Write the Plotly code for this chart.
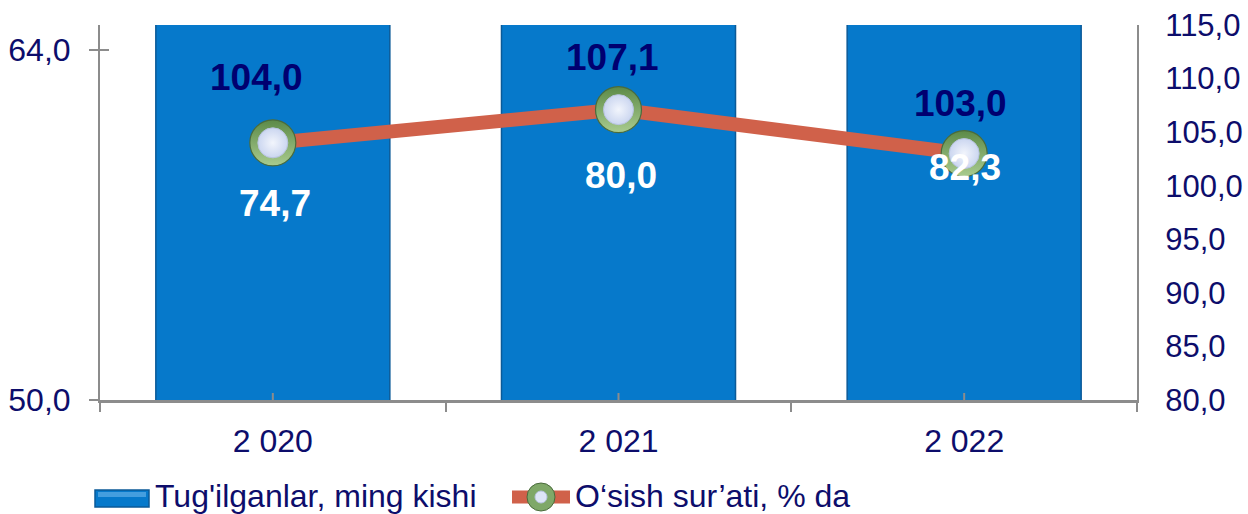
import plotly.graph_objects as go

# ---------------- data ----------------
years = ["2 020", "2 021", "2 022"]
births = [74.7, 80.0, 82.3]          # Tug'ilganlar, ming kishi
growth = [104.0, 107.1, 103.0]       # O‘sish sur’ati, % da
left_ticks = [50.0, 64.0]
right_ticks = [80, 85, 90, 95, 100, 105, 110, 115]

# ---------------- style ----------------
W, H = 1248, 514
ML, MR, MT, MB = 100, 111, 25, 114
PW, PH = W - ML - MR, H - MT - MB
FONT = "Liberation Sans"
NAVY = "#0D0D6B"
LBL_NAVY = "#000070"
BAR = "#0679CB"
LINE = "#D0614A"
GRAY = "#8C8C8C"
line_label_shift = [65, 52, 50]      # px above marker
line_label_xshift = [-16, -6, -4]
bar_label_py = [203, 175, 167]       # px from top of image
bar_label_xshift = [2, 2, 1]


def fmt(v):
    return f"{v:.1f}".replace(".", ",")


def px(x):
    return (x - ML) / PW


def py(y):
    return (MT + PH - y) / PH


fig = go.Figure()

fig.add_trace(go.Bar(
    x=years, y=births, name="Tug'ilganlar, ming kishi",
    marker=dict(color=BAR, line=dict(color="#0B5A98", width=1.5)),
    yaxis="y", showlegend=False, hoverinfo="skip",
))
fig.add_trace(go.Scatter(
    x=years, y=growth, yaxis="y2", mode="lines",
    line=dict(color=LINE, width=14), showlegend=False, hoverinfo="skip",
))
fig.add_trace(go.Scatter(
    x=years, y=growth, yaxis="y2", mode="markers",
    marker=dict(size=46, color="#5C8A48",
                gradient=dict(type="vertical", color="#A9CB8E"),
                line=dict(color="#4A6B3C", width=1.2)),
    showlegend=False, hoverinfo="skip",
))
fig.add_trace(go.Scatter(
    x=years, y=growth, yaxis="y2", mode="markers",
    marker=dict(size=30, color="#CBD6F0",
                gradient=dict(type="radial", color="#F2F5FC"),
                line=dict(color="#B8C4E0", width=1)),
    showlegend=False, hoverinfo="skip",
))

annotations = []
for i, (y, v) in enumerate(zip(years, growth)):
    annotations.append(dict(
        x=y, y=v, xref="x", yref="y2", text=fmt(v), showarrow=False,
        yshift=line_label_shift[i], xshift=line_label_xshift[i],
        font=dict(family=FONT, size=37, color=LBL_NAVY, weight="bold"),
        xanchor="center", yanchor="middle",
    ))
for i, (y, v) in enumerate(zip(years, births)):
    annotations.append(dict(
        x=y, y=py(bar_label_py[i]), xref="x", yref="paper", text=fmt(v),
        showarrow=False, xshift=bar_label_xshift[i],
        font=dict(family=FONT, size=37, color="white", weight="bold"),
        xanchor="center", yanchor="middle",
    ))

# custom legend
annotations.append(dict(
    x=px(153), y=py(496), xref="paper", yref="paper",
    text="Tug'ilganlar, ming kishi", showarrow=False,
    xanchor="left", yanchor="middle",
    font=dict(family=FONT, size=32, color=NAVY),
))
annotations.append(dict(
    x=px(573), y=py(496), xref="paper", yref="paper",
    text="O‘sish sur’ati, % da", showarrow=False,
    xanchor="left", yanchor="middle",
    font=dict(family=FONT, size=32, color=NAVY),
))

shapes = [
    # legend bar symbol
    dict(type="rect", xref="paper", yref="paper",
         x0=px(95), x1=px(149), y0=py(507), y1=py(490),
         fillcolor=BAR, line=dict(color="#0B5A98", width=1.5)),
    dict(type="rect", xref="paper", yref="paper",
         x0=px(98), x1=px(146), y0=py(497), y1=py(492),
         fillcolor="rgba(120,190,240,0.55)", line=dict(width=0)),
    # legend line symbol
    dict(type="line", xref="paper", yref="paper",
         x0=px(512), x1=px(570), y0=py(497), y1=py(497),
         line=dict(color=LINE, width=13)),
    dict(type="circle", xref="paper", yref="paper",
         x0=px(527), x1=px(555), y0=py(511), y1=py(483),
         fillcolor="#7FA868", line=dict(color="#4A6B3C", width=1)),
    dict(type="circle", xref="paper", yref="paper",
         x0=px(535), x1=px(547), y0=py(503), y1=py(491),
         fillcolor="#DDE5F7", line=dict(color="#B8C4E0", width=1)),
    # inside part of the 64,0 cross tick
    dict(type="line", xref="paper", yref="y",
         x0=0, x1=px(109), y0=left_ticks[1], y1=left_ticks[1],
         line=dict(color=GRAY, width=2)),
]
# small inner ticks at category centres
for y in years:
    shapes.append(dict(type="line", xref="x", yref="paper",
                       x0=y, x1=y, y0=0, y1=py(393),
                       line=dict(color=GRAY, width=2)))

fig.update_layout(
    width=W, height=H,
    margin=dict(l=ML, r=MR, t=MT, b=MB, autoexpand=False),
    paper_bgcolor="white", plot_bgcolor="white",
    separators=", ",
    bargap=0.323,
    showlegend=False,
    font=dict(family=FONT, color=NAVY, size=32),
    xaxis=dict(
        type="category", range=[-0.5, 2.5], automargin=False,
        showline=True, linecolor=GRAY, linewidth=2.5,
        ticks="outside", tickson="boundaries", ticklen=9, tickwidth=2,
        tickcolor=GRAY, showgrid=False, zeroline=False,
        tickfont=dict(family=FONT, size=32, color=NAVY),
        ticklabelstandoff=11,
    ),
    yaxis=dict(
        range=[50, 65], tickvals=left_ticks, automargin=False,
        ticktext=[fmt(v) for v in left_ticks],
        showline=True, linecolor=GRAY, linewidth=2,
        ticks="outside", ticklen=9, tickwidth=2, tickcolor=GRAY,
        showgrid=False, zeroline=False,
        tickfont=dict(family=FONT, size=32, color=NAVY),
        ticklabelstandoff=12,
    ),
    yaxis2=dict(
        range=[80, 115], tickvals=right_ticks, automargin=False,
        ticktext=[fmt(v) for v in right_ticks],
        overlaying="y", side="right",
        showline=True, linecolor=GRAY, linewidth=2,
        ticks="", showgrid=False, zeroline=False,
        tickfont=dict(family=FONT, size=31, color=NAVY),
        ticklabelstandoff=20,
    ),
    annotations=annotations,
    shapes=shapes,
)

fig.write_html(
    "out.html",
    config={"displayModeBar": False},
    post_script="document.body.style.margin='0';document.body.style.overflow='hidden';",
)
